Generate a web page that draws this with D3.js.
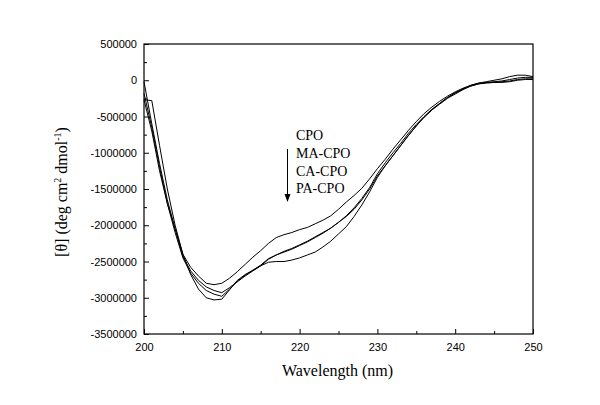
<!DOCTYPE html>
<html><head><meta charset="utf-8">
<script src="https://cdn.jsdelivr.net/npm/d3@7"></script>
<style>body{margin:0;background:#fff}</style>
</head><body>
<svg id="c" width="600" height="405"></svg>
<script>
const wavelengths = d3.range(200, 251, 1);
const cpo = [-20000,-600000,-1150000,-1650000,-2050000,-2400000,-2580000,-2700000,-2800000,-2820000,
  -2800000,-2730000,-2640000,-2540000,-2440000,-2350000,-2250000,-2170000,-2130000,-2100000,
  -2060000,-2030000,-1980000,-1930000,-1870000,-1780000,-1680000,-1590000,-1490000,-1360000,
  -1220000,-1090000,-950000,-820000,-690000,-570000,-460000,-370000,-290000,-220000,
  -160000,-110000,-70000,-40000,-20000,0,20000,50000,70000,70000,50000];
const maCpo = [-180000,-650000,-1200000,-1700000,-2050000,-2430000,-2630000,-2760000,-2850000,-2900000,
  -2930000,-2860000,-2780000,-2700000,-2630000,-2560000,-2470000,-2410000,-2360000,-2320000,
  -2270000,-2220000,-2160000,-2100000,-2040000,-1960000,-1870000,-1760000,-1630000,-1480000,
  -1290000,-1140000,-1000000,-870000,-730000,-610000,-500000,-400000,-320000,-240000,
  -180000,-120000,-80000,-50000,-30000,-20000,-10000,10000,30000,40000,40000];
const caCpo = [-270000,-700000,-1250000,-1700000,-2100000,-2450000,-2660000,-2800000,-2900000,-2950000,
  -2980000,-2880000,-2770000,-2690000,-2620000,-2550000,-2460000,-2410000,-2370000,-2330000,
  -2280000,-2230000,-2170000,-2110000,-2040000,-1960000,-1880000,-1780000,-1650000,-1500000,
  -1320000,-1180000,-1040000,-900000,-760000,-630000,-510000,-410000,-330000,-250000,
  -190000,-130000,-80000,-50000,-40000,-30000,-20000,-10000,10000,20000,20000];
const paCpo = [-270000,-280000,-900000,-1500000,-2000000,-2400000,-2680000,-2880000,-3000000,-3030000,
  -3020000,-2890000,-2760000,-2680000,-2620000,-2560000,-2510000,-2500000,-2500000,-2480000,
  -2450000,-2410000,-2370000,-2300000,-2220000,-2120000,-2020000,-1880000,-1720000,-1540000,
  -1340000,-1180000,-1040000,-900000,-760000,-630000,-510000,-410000,-320000,-240000,
  -170000,-120000,-70000,-40000,-30000,-30000,-30000,-20000,0,10000,10000];
const seriesNames = ["CPO","MA-CPO","CA-CPO","PA-CPO"];
const seriesValues = [cpo, maCpo, caCpo, paCpo];
const xTicks = [200,210,220,230,240,250];
const yTicks = [500000,0,-500000,-1000000,-1500000,-2000000,-2500000,-3000000,-3500000];

const svg = d3.select("#c");
const L = 144, R = 533, T = 44, B = 334;
const x = d3.scaleLinear().domain([200,250]).range([L,R]);
const y = d3.scaleLinear().domain([-3500000,500000]).range([B,T]);

// series
const line = d3.line().x((d,i)=>x(wavelengths[i])).y(d=>y(d));
seriesValues.forEach(vals=>{
  svg.append("path").attr("d", line(vals)).attr("fill","none")
    .attr("stroke","#000").attr("stroke-width",1);
});

// axes
const fmt = d => String(d);
const xAxis = d3.axisBottom(x).tickValues(xTicks).tickSize(-5).tickPadding(9).tickFormat(fmt);
const xMinor = d3.axisBottom(x).tickValues(d3.range(205,250,10)).tickSize(-3).tickFormat("");
const yAxis = d3.axisLeft(y).tickValues(yTicks).tickSize(-5).tickPadding(7).tickFormat(fmt);
const yMinor = d3.axisLeft(y).tickValues(d3.range(-3250000,500000,500000)).tickSize(-3).tickFormat("");
function style(g){
  g.selectAll("path.domain").remove();
  g.selectAll("line").attr("stroke","#000");
  g.selectAll("text").attr("font-family","'Liberation Sans', Arial, sans-serif").attr("font-size",11).attr("fill","#000");
}
svg.append("g").attr("transform",`translate(0,${B})`).call(xAxis).call(style);
svg.append("g").attr("transform",`translate(0,${B})`).call(xMinor).call(style);
svg.append("g").attr("transform",`translate(${L},0)`).call(yAxis).call(style);
svg.append("g").attr("transform",`translate(${L},0)`).call(yMinor).call(style);

svg.append("rect").attr("x",L).attr("y",T).attr("width",R-L).attr("height",B-T)
  .attr("fill","none").attr("stroke","#000").attr("stroke-width",1.2);

// titles
svg.append("text").attr("x",(L+R)/2-1).attr("y",376).attr("text-anchor","middle")
  .attr("font-family","'Liberation Serif', 'Times New Roman', serif").attr("font-size",16)
  .text("Wavelength (nm)");
const yt = svg.append("text").attr("transform","translate(67,192) rotate(-90)")
  .attr("text-anchor","middle")
  .attr("font-family","'Liberation Serif', 'Times New Roman', serif").attr("font-size",16);
yt.append("tspan").text("[θ] (deg cm");
yt.append("tspan").attr("font-size",10).attr("dy",-6).text("2");
yt.append("tspan").attr("dy",6).text(" dmol");
yt.append("tspan").attr("font-size",10).attr("dy",-6).text("-1");
yt.append("tspan").attr("dy",6).text(")");

// legend
const lg = svg.append("g");
seriesNames.forEach((n,i)=>{
  lg.append("text").attr("x",296).attr("y",140+i*17.8)
    .attr("font-family","'Liberation Serif', 'Times New Roman', serif").attr("font-size",14)
    .text(n);
});
lg.append("line").attr("x1",287.5).attr("x2",287.5).attr("y1",149).attr("y2",196)
  .attr("stroke","#000").attr("stroke-width",1);
lg.append("path").attr("d","M284.5,194 L290.5,194 L287.5,202 Z").attr("fill","#000");
</script>
</body></html>
